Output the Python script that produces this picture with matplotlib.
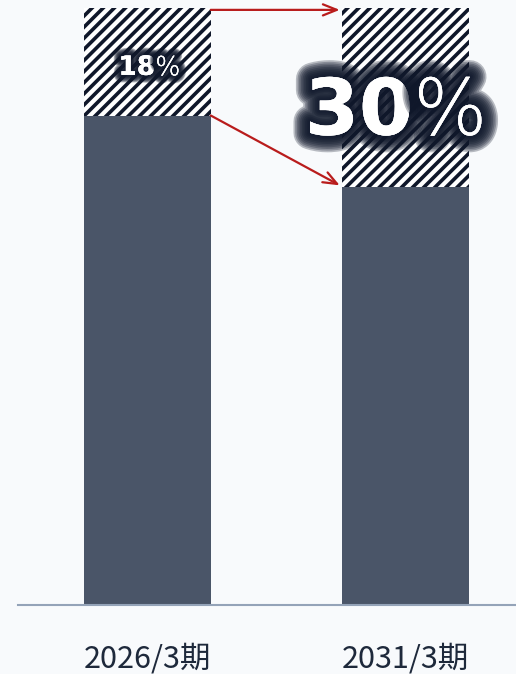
import matplotlib.pyplot as plt
import matplotlib.patheffects as pe

categories = ["2026/3期", "2031/3期"]
base_share = [82, 70]
growth_share = [18, 30]

bg = "#f8fafc"
bar_color = "#4a5568"
hatch_color = "#0f172a"
arrow_color = "#b91c1c"

plt.rcParams['font.family'] = ['Noto Sans CJK JP', 'DejaVu Sans']
plt.rcParams['hatch.linewidth'] = 2.6

fig = plt.figure(figsize=(5.16, 6.74), dpi=100, facecolor=bg)
ax = fig.add_axes([0.035, 0.1024, 0.965, 0.8856], facecolor=bg)

x = list(range(len(categories)))
width = 0.49
ax.bar(x, base_share, width=width, color=bar_color, linewidth=0)
ax.bar(x, growth_share, width=width, bottom=base_share, color="white",
       edgecolor=hatch_color, hatch="///", linewidth=0)

ax.set_xlim(-0.502, 1.428)
ax.set_ylim(0, 100)

for s in ["top", "right", "left"]:
    ax.spines[s].set_visible(False)
ax.spines["bottom"].set_color("#94a3b8")
ax.spines["bottom"].set_linewidth(1.5)
ax.set_yticks([])
ax.set_xticks(x)
ax.set_xticklabels(categories, fontsize=22, color="#1e293b")
ax.tick_params(axis="x", length=0, pad=28)

# arrows between bars
totals = [b + g for b, g in zip(base_share, growth_share)]
x0 = x[0] + width / 2
x1 = x[1] - width / 2 - 0.01
arrow = dict(arrowstyle="->,head_length=1.0,head_width=0.4", color=arrow_color, lw=1.6,
             shrinkA=0, shrinkB=0)
ax.annotate("", xy=(x1, totals[1] - 0.3), xytext=(x0, totals[0] - 0.3), arrowprops=arrow)
ax.annotate("", xy=(x1, base_share[1] + 0.3), xytext=(x0, base_share[0]), arrowprops=arrow)

def glow(width_max, n=10):
    effects = []
    for i in range(n, 0, -1):
        effects.append(pe.withStroke(linewidth=width_max * i / n, foreground=hatch_color, alpha=0.28))
    effects.append(pe.Normal())
    return effects

# 18% label
y18 = base_share[0] + growth_share[0] / 2 - 1.0
ax.text(x[0] + 0.03, y18, str(growth_share[0]), ha="right", va="center", fontsize=19,
        fontweight="bold", color="white", path_effects=glow(11), family="DejaVu Sans")
ax.text(x[0] + 0.03, y18, "%", ha="left", va="center", fontsize=19,
        fontweight="light", color="white", path_effects=glow(11), family="DejaVu Sans")

# 30% label
ax.text(x[1] + 0.03, 82.5, str(growth_share[1]), ha="right", va="center", fontsize=56,
        fontweight="bold", color="white", path_effects=glow(24), family="DejaVu Sans")
ax.text(x[1] + 0.03, 82.5, "%", ha="left", va="center", fontsize=56,
        fontweight="light", color="white", path_effects=glow(24), family="DejaVu Sans")

fig.savefig("out.png", dpi=100, facecolor=bg)
